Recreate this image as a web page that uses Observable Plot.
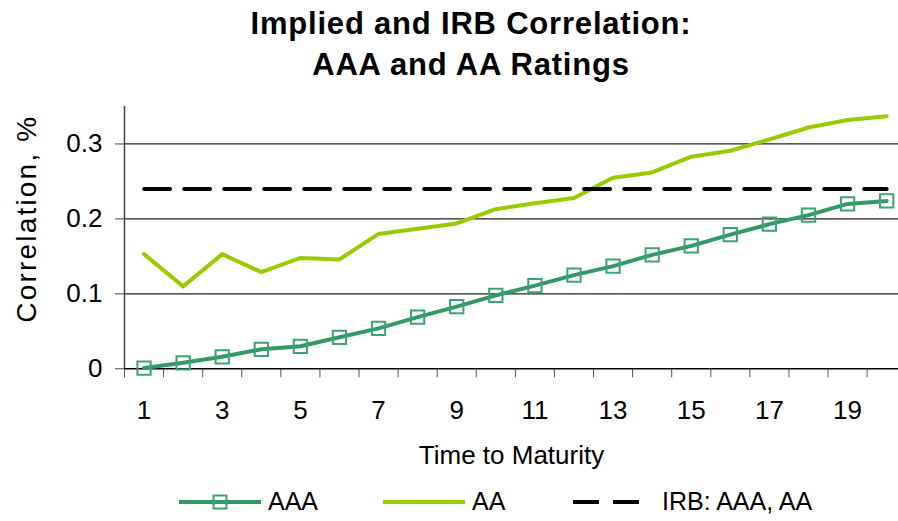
<!DOCTYPE html>
<html><head><meta charset="utf-8">
<script src="https://cdn.jsdelivr.net/npm/d3@7"></script>
<script src="https://cdn.jsdelivr.net/npm/@observablehq/plot@0.6"></script>
<style>
body{margin:0;background:#fff;font-family:"Liberation Sans",Arial,sans-serif;overflow:hidden;}
#wrap{width:898px;height:521px;position:relative;overflow:hidden;background:#fff}
#title{height:96px;position:relative;font-weight:bold;font-size:31px;line-height:41px;letter-spacing:0.8px;color:#000;}
#title .t{position:absolute;left:44px;width:854px;text-align:center;top:3px}
#chart svg{display:block;max-width:none}
#legend{position:relative;height:45px;font-size:25px;color:#000}
#legend .it{position:absolute;top:13px;line-height:25px;white-space:nowrap}
#legend svg{position:absolute;top:18px}
</style></head>
<body><div id="wrap">
<div id="title"><div class="t">Implied and IRB Correlation:<br>AAA and AA Ratings</div></div>
<div id="chart"></div>
<div id="legend">
  <svg style="left:179px" width="82" height="16"><line x1="0" x2="82" y1="8" y2="8" stroke="#339966" stroke-width="4" stroke-linecap="round"/><rect x="34.5" y="1.5" width="13" height="13" fill="none" stroke="#3aa572" stroke-width="2"/></svg>
  <div class="it" style="left:268px">AAA</div>
  <svg style="left:383px" width="82" height="16"><line x1="0" x2="82" y1="8" y2="8" stroke="#99CC00" stroke-width="4" stroke-linecap="round"/></svg>
  <div class="it" style="left:472px">AA</div>
  <svg style="left:573px" width="66" height="16"><line x1="0" x2="26" y1="8" y2="8" stroke="#000" stroke-width="4"/><line x1="40" x2="66" y1="8" y2="8" stroke="#000" stroke-width="4"/></svg>
  <div class="it" style="left:662px">IRB: AAA, AA</div>
</div>
</div>
<script>
// Data
const maturity = [1,2,3,4,5,6,7,8,9,10,11,12,13,14,15,16,17,18,19,20];
const aaa = [0.001,0.008,0.016,0.026,0.030,0.042,0.054,0.069,0.083,0.098,0.111,0.125,0.137,0.152,0.164,0.179,0.193,0.205,0.220,0.224];
const aa  = [0.153,0.110,0.153,0.129,0.148,0.146,0.180,0.187,0.194,0.213,0.221,0.228,0.255,0.262,0.283,0.291,0.306,0.322,0.332,0.337];
const irb = [0.24,0.24,0.24,0.24,0.24,0.24,0.24,0.24,0.24,0.24,0.24,0.24,0.24,0.24,0.24,0.24,0.24,0.24,0.24,0.24];
const xTickLabels = [1,3,5,7,9,11,13,15,17,19];
const xBoundaries = [0.5,1.5,2.5,3.5,4.5,5.5,6.5,7.5,8.5,9.5,10.5,11.5,12.5,13.5,14.5,15.5,16.5,17.5,18.5,19.5,20.5];
const yTicks = [0,0.1,0.2,0.3];
const yLabel = "Correlation, %";
const xLabel = "Time to Maturity";

const rows = maturity.map((m,i)=>({m, aaa: aaa[i], aa: aa[i], irb: irb[i]}));

const chart = Plot.plot({
  width: 898, height: 380,
  marginTop: 10, marginBottom: 107.7, marginLeft: 124, marginRight: 0,
  style: {fontFamily: '"Liberation Sans", Arial, sans-serif', fontSize: "26px", color: "#000", background: "#fff"},
  x: {domain: [0.5, 20.5], range: [124, 905.7]},
  y: {domain: [0, 0.35], range: [272.3, 10]},
  marks: [
    Plot.gridY(yTicks.slice(1), {stroke: "#222", strokeOpacity: 1, strokeWidth: 1.3}),
    Plot.ruleX([0.5], {y1: 0, y2: 0.35, stroke: "#444", strokeWidth: 1.5}),
    Plot.axisY(yTicks, {tickSize: 9, tickPadding: 13, tickFormat: d => String(d), stroke: "#444", label: null}),
    Plot.text([yLabel], {frameAnchor: "left", text: d => d, rotate: -90, dx: -97, dy: -19, fontSize: 28, textAnchor: "middle", lineAnchor: "middle"}),
    Plot.axisX(xBoundaries, {tickSize: 9, tickFormat: () => "", label: null, stroke: "#555"}),
    Plot.axisX(xTickLabels, {tickSize: 0, tickPadding: 32,
      label: xLabel, labelAnchor: "center", labelArrow: "none", labelOffset: 95}),
    Plot.ruleY([0], {stroke: "#000", strokeWidth: 1.5}),
    Plot.line(rows, {x: "m", y: "aa", stroke: "#99CC00", strokeWidth: 4}),
    Plot.line(rows, {x: "m", y: "aaa", stroke: "#339966", strokeWidth: 4}),
    Plot.dot(rows, {x: "m", y: "aaa", symbol: "square", r: 7.5, stroke: "#3aa572", strokeWidth: 2, fill: "none"}),
    Plot.line(rows, {x: "m", y: "irb", stroke: "#000", strokeWidth: 4, strokeDasharray: "26,14"})
  ]
});
chart.querySelectorAll("text").forEach(t => { if (t.textContent === yLabel) t.setAttribute("letter-spacing", "2.2"); });
document.getElementById("chart").appendChild(chart);
</script>
</body></html>
